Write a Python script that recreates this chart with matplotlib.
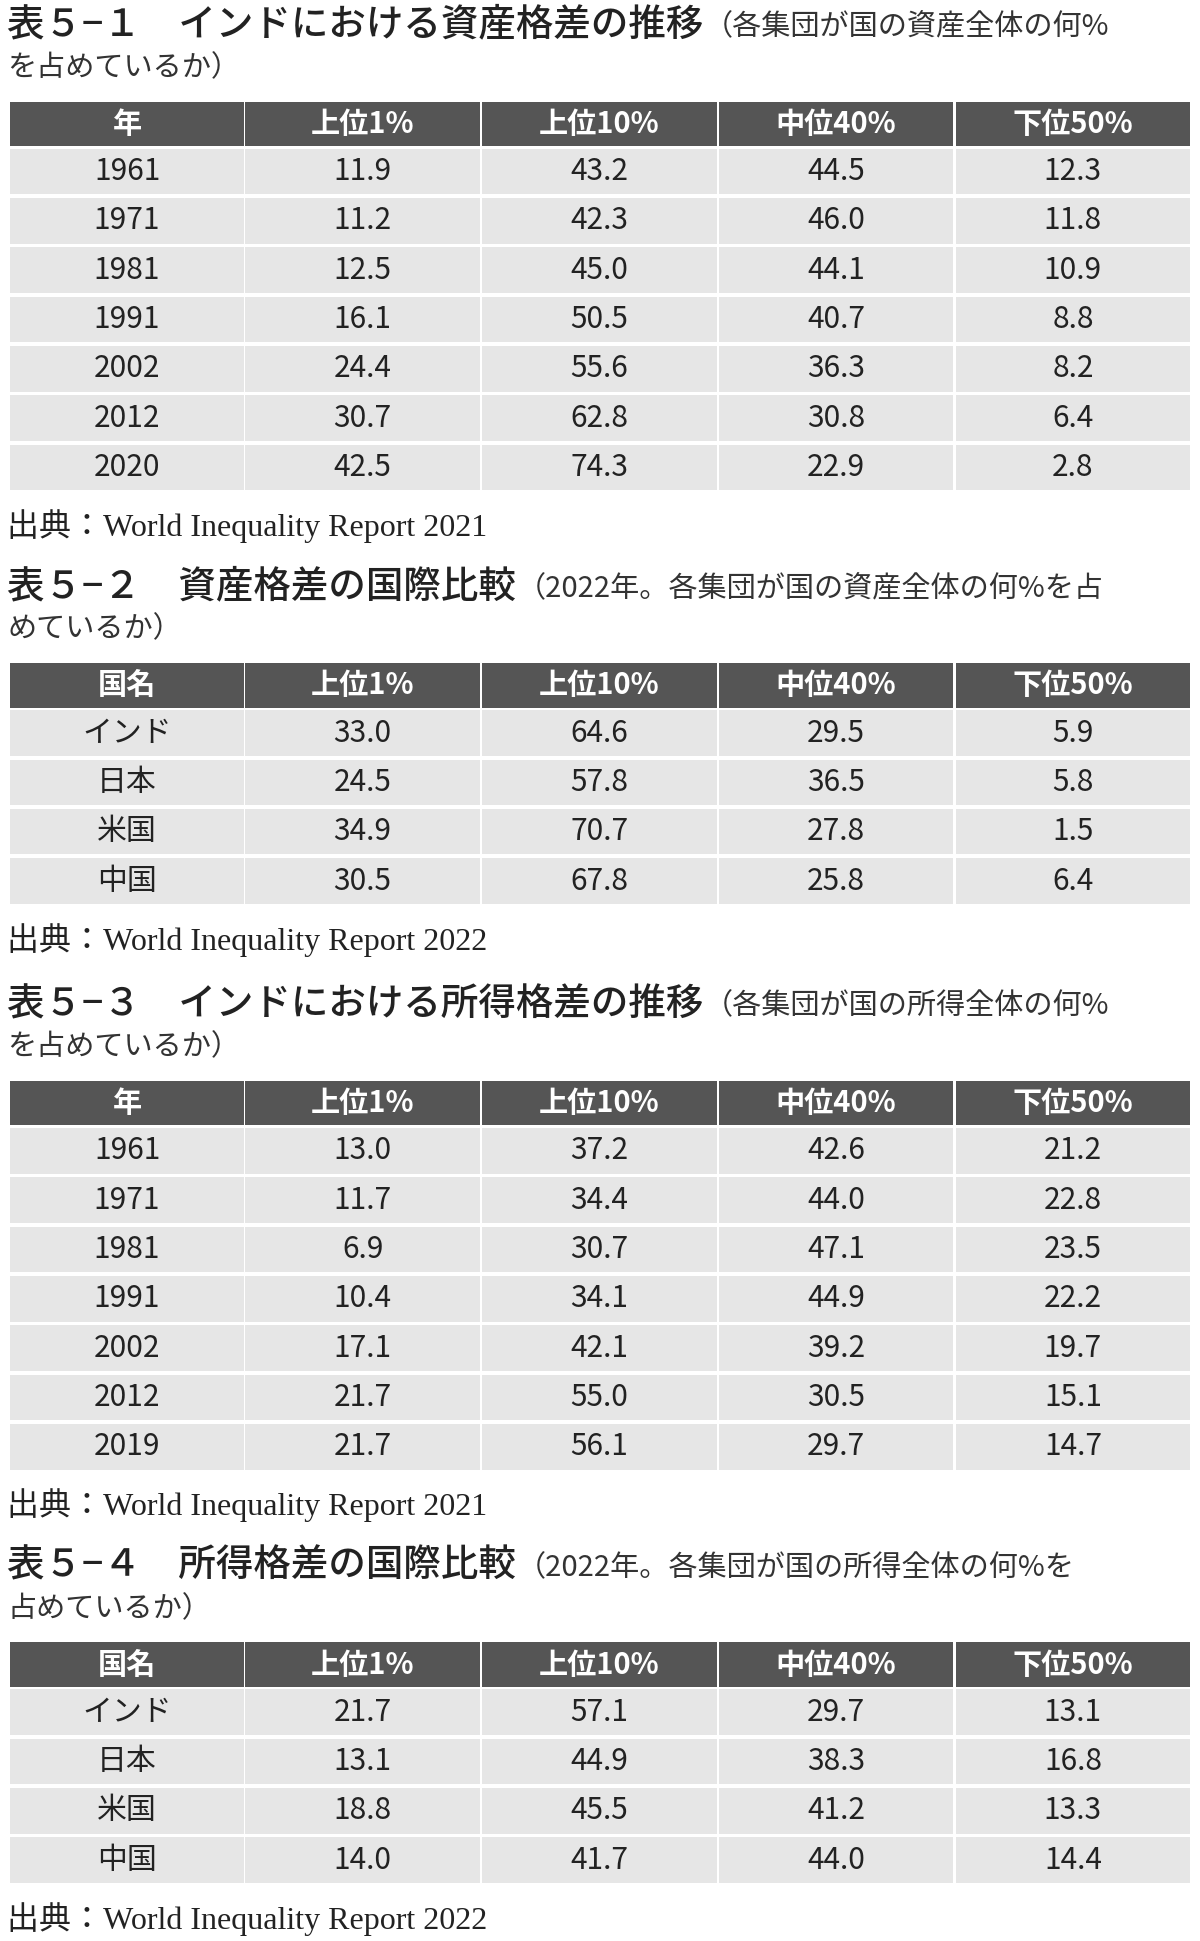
import matplotlib
matplotlib.use("Agg")
import matplotlib.pyplot as plt
from matplotlib.patches import Rectangle

plt.rcParams['font.family'] = ['Noto Sans CJK JP', 'DejaVu Sans']

cols = ['上位1%', '上位10%', '中位40%', '下位50%']

t1_rows = ['1961', '1971', '1981', '1991', '2002', '2012', '2020']
t1_vals = [[11.9, 43.2, 44.5, 12.3], [11.2, 42.3, 46.0, 11.8], [12.5, 45.0, 44.1, 10.9],
           [16.1, 50.5, 40.7, 8.8], [24.4, 55.6, 36.3, 8.2], [30.7, 62.8, 30.8, 6.4],
           [42.5, 74.3, 22.9, 2.8]]
t2_rows = ['インド', '日本', '米国', '中国']
t2_vals = [[33.0, 64.6, 29.5, 5.9], [24.5, 57.8, 36.5, 5.8], [34.9, 70.7, 27.8, 1.5],
           [30.5, 67.8, 25.8, 6.4]]
t3_rows = ['1961', '1971', '1981', '1991', '2002', '2012', '2019']
t3_vals = [[13.0, 37.2, 42.6, 21.2], [11.7, 34.4, 44.0, 22.8], [6.9, 30.7, 47.1, 23.5],
           [10.4, 34.1, 44.9, 22.2], [17.1, 42.1, 39.2, 19.7], [21.7, 55.0, 30.5, 15.1],
           [21.7, 56.1, 29.7, 14.7]]
t4_rows = ['インド', '日本', '米国', '中国']
t4_vals = [[21.7, 57.1, 29.7, 13.1], [13.1, 44.9, 38.3, 16.8], [18.8, 45.5, 41.2, 13.3],
           [14.0, 41.7, 44.0, 14.4]]

tables = [
    ('表５−１　インドにおける資産格差の推移', '（各集団が国の資産全体の何%', 'を占めているか）',
     '年', t1_rows, t1_vals, 'World Inequality Report 2021', 20),
    ('表５−２　資産格差の国際比較', '（2022年。各集団が国の資産全体の何%を占', 'めているか）',
     '国名', t2_rows, t2_vals, 'World Inequality Report 2022', 473),
    ('表５−３　インドにおける所得格差の推移', '（各集団が国の所得全体の何%', 'を占めているか）',
     '年', t3_rows, t3_vals, 'World Inequality Report 2021', 810),
    ('表５−４　所得格差の国際比較', '（2022年。各集団が国の所得全体の何%を', '占めているか）',
     '国名', t4_rows, t4_vals, 'World Inequality Report 2022', 1263),
]

W, H = 968, 1566
fig = plt.figure(figsize=(12, 19.41), dpi=100)
ax = fig.add_axes([0, 0, 1, 1])
ax.set_xlim(0, W)
ax.set_ylim(H, 0)
ax.axis('off')
fig.canvas.draw()
renderer = fig.canvas.get_renderer()

col_x = [8, 198, 389, 580, 771]
col_w = 189
serif = ['Liberation Serif', 'Noto Sans CJK JP']

for title, paren, line2, head, rows, vals, src, ty in tables:
    t = ax.text(6, ty, title, fontsize=27, fontweight='medium', va='center', ha='left', color='#222222')
    bb = t.get_window_extent(renderer)
    x_end = ax.transData.inverted().transform((bb.x1, bb.y0))[0]
    ax.text(x_end, ty + 2, paren, fontsize=21, va='center', ha='left', color='#333333')
    ax.text(6, ty + 35, line2, fontsize=21, va='center', ha='left', color='#333333')
    top = ty + 62
    hh = 36
    for j, lab in enumerate([head] + cols):
        ax.add_patch(Rectangle((col_x[j], top), col_w, hh, color='#555555', lw=0))
        ax.text(col_x[j] + col_w / 2, top + hh / 2, lab, fontsize=21, fontweight='bold',
                color='white', ha='center', va='center')
    pitch = 39.8
    for i, (r, v) in enumerate(zip(rows, vals)):
        y0 = top + hh + 2 + i * pitch
        cells = [r] + [f'{x:.1f}' for x in v]
        for j, c in enumerate(cells):
            ax.add_patch(Rectangle((col_x[j], y0), col_w, pitch - 3, color='#e6e6e6', lw=0))
            ax.text(col_x[j] + col_w / 2, y0 + (pitch - 3) / 2, c, fontsize=21.5,
                    color='#222222', ha='center', va='center')
    sy = top + hh + 2 + len(rows) * pitch + 26
    ax.text(6, sy, '出典：' + src, fontsize=23, va='center', ha='left', color='#222222', family=serif)

fig.savefig('out.png', dpi=100, facecolor='white')
